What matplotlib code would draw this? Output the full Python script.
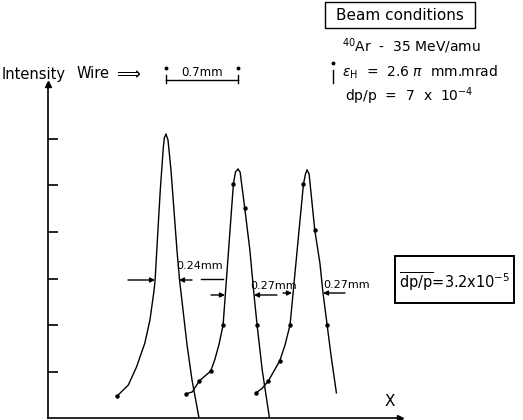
import numpy as np
import matplotlib
matplotlib.use("Agg")
import matplotlib.pyplot as plt

# ---------------- data (x in mm from the axis, y in tick units) ----------------
p1_left_x = [0.67, 0.78, 0.86, 0.94, 0.99, 1.03, 1.04, 1.06, 1.09, 1.12, 1.13, 1.146]
p1_left_y = [0.47, 0.71, 1.10, 1.61, 2.11, 2.75, 2.97, 3.76, 4.90, 5.83, 6.03, 6.10]
p1_right_x = [1.146, 1.165, 1.194, 1.223, 1.252, 1.277, 1.311, 1.350, 1.398, 1.466]
p1_right_y = [6.10, 5.98, 5.33, 4.47, 3.61, 2.97, 2.32, 1.57, 0.82, 0.00]

p2_left_x = [1.34, 1.40, 1.47, 1.58, 1.62, 1.66, 1.70, 1.80, 1.82, 1.845]
p2_left_y = [0.52, 0.56, 0.80, 1.01, 1.26, 1.58, 2.00, 5.03, 5.29, 5.35]
p2_right_x = [1.845, 1.865, 1.91, 1.96, 2.00, 2.03, 2.08, 2.15]
p2_right_y = [5.35, 5.29, 4.52, 3.61, 2.65, 2.00, 1.03, 0.00]

p3_left_x = [2.02, 2.08, 2.14, 2.25, 2.30, 2.35, 2.48, 2.50, 2.515]
p3_left_y = [0.54, 0.64, 0.80, 1.23, 1.56, 2.00, 5.03, 5.25, 5.33]
p3_right_x = [2.515, 2.535, 2.59, 2.64, 2.67, 2.71, 2.75, 2.80]
p3_right_y = [5.33, 5.25, 4.04, 3.33, 2.69, 2.00, 1.31, 0.54]

marker_x = [0.67, 1.34, 1.47, 1.58, 1.70, 1.80, 1.91, 2.03,
            2.02, 2.14, 2.25, 2.35, 2.48, 2.59, 2.71]
marker_y = [0.47, 0.52, 0.80, 1.01, 2.00, 5.03, 4.52, 2.00,
            0.54, 0.80, 1.23, 2.00, 5.03, 4.04, 2.00]

y_ticks = [1, 2, 3, 4, 5, 6]
width_labels = ["0.24mm", "0.27mm", "0.27mm"]
spacing_label = "0.7mm"
beam_title = "Beam conditions"
beam_lines = [r"$^{40}$Ar  -  35 MeV/amu",
              r"$\varepsilon_{\rm H}$  =  2.6 $\pi$  mm.mrad",
              r"dp/p  =  7  x  10$^{-4}$"]
result_label = r"$\overline{\rm dp/p}$=3.2x10$^{-5}$"

# ---------------- figure ----------------
W, H = 523, 420
plt.rcParams['mathtext.fontset'] = 'dejavusans'
fig = plt.figure(figsize=(W / 100, H / 100), dpi=100)


def P(x, y):
    return (x / W, 1 - y / H)


top = 84
ax = fig.add_axes([48 / W, 2 / H, (400 - 48) / W, (418 - top) / H])
ax.set_xlim(0, (400 - 48) / 103.0)
ax.set_ylim(0, (418 - top) / 46.5)
for s in ("top", "right"):
    ax.spines[s].set_visible(False)
for s in ("left", "bottom"):
    ax.spines[s].set_linewidth(1.2)
ax.set_xticks([])
ax.set_yticks(y_ticks)
ax.set_yticklabels([])
ax.tick_params(axis="y", direction="in", length=7, width=1.2)

lw = 1.0
for lx, ly, rx, ry in [(p1_left_x, p1_left_y, p1_right_x, p1_right_y),
                       (p2_left_x, p2_left_y, p2_right_x, p2_right_y),
                       (p3_left_x, p3_left_y, p3_right_x, p3_right_y)]:
    ax.plot(lx, ly, color="black", lw=lw, solid_joinstyle="round")
    ax.plot(rx, ry, color="black", lw=lw, solid_joinstyle="round")
ax.plot(marker_x, marker_y, "o", color="black", ms=2.2, ls="none")

# axis arrowheads
ax.plot(0, 1, marker="^", color="black", ms=5, transform=ax.transAxes, clip_on=False)
ax.plot(1, 0, marker=">", color="black", ms=4, transform=ax.transAxes, clip_on=False)

# ---------------- annotations (pixel layout) ----------------
def arrow(x0, y0, x1, y1):
    fig.add_artist(matplotlib.patches.FancyArrowPatch(
        P(x0, y0), P(x1, y1), transform=fig.transFigure, shrinkA=0, shrinkB=0,
        arrowstyle="-|>", mutation_scale=7, lw=1.0, color="black"))


def line(x0, y0, x1, y1, lw=1.0):
    fig.add_artist(matplotlib.lines.Line2D([x0 / W, x1 / W], [1 - y0 / H, 1 - y1 / H],
                                           transform=fig.transFigure, color="black", lw=lw))


def dot(x, y):
    fig.add_artist(matplotlib.lines.Line2D([x / W], [1 - y / H], marker="o", ms=1.8,
                                           color="black", transform=fig.transFigure))


arrow(128, 280, 155, 280)
arrow(192, 280, 179, 280)
line(201, 279, 223, 279)
arrow(211, 295, 225, 295)
arrow(277, 295, 254, 295)
arrow(283, 293, 292, 293)
arrow(345, 293, 323, 293)

fs_small = 8
fig.text(*P(200, 266), width_labels[0], ha="center", va="center", fontsize=fs_small)
fig.text(*P(274, 286), width_labels[1], ha="center", va="center", fontsize=fs_small)
fig.text(*P(347, 285), width_labels[2], ha="center", va="center", fontsize=fs_small)

# header
fig.text(*P(2, 74), "Intensity", ha="left", va="center", fontsize=10.5)
fig.text(*P(77, 74), "Wire", ha="left", va="center", fontsize=10.5)
fig.text(*P(116, 74), "\u27f9", ha="left", va="center", fontsize=12)
fig.text(*P(202, 72), spacing_label, ha="center", va="center", fontsize=8.5)
line(166, 80, 238, 80)
for xx in (166, 238):
    line(xx, 75, xx, 83)
    dot(xx, 68)
line(333, 70, 333, 83)
dot(333, 63)

fig.add_artist(matplotlib.patches.Rectangle(P(325, 28), 150 / W, 26 / H, transform=fig.transFigure,
                                            fill=False, ec="black", lw=1.0))
fig.text(*P(400, 15), beam_title, ha="center", va="center", fontsize=11)
fig.text(*P(342, 46), beam_lines[0], ha="left", va="center", fontsize=10)
fig.text(*P(342, 72), beam_lines[1], ha="left", va="center", fontsize=10)
fig.text(*P(345, 96), beam_lines[2], ha="left", va="center", fontsize=10)

fig.add_artist(matplotlib.patches.Rectangle(P(395, 303), 119 / W, 47 / H, transform=fig.transFigure,
                                            fill=False, ec="black", lw=1.4))
fig.text(*P(455, 282), result_label, ha="center", va="center", fontsize=10.5)

fig.text(*P(390, 401), "X", ha="center", va="center", fontsize=11)

fig.savefig("out.png", dpi=100)
